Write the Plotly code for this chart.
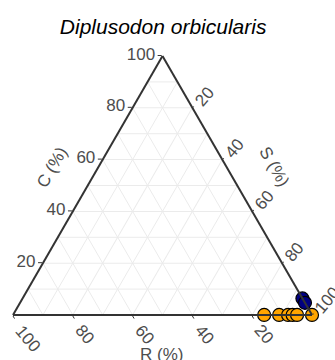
import plotly.graph_objects as go

# Composition of each sample (percent): C = top, R = bottom-left, S = bottom-right
orange_C = [0, 0, 0, 0, 0, 0]
orange_R = [16, 11, 8, 6.5, 5, 0]
orange_S = [84, 89, 92, 93.5, 95, 100]

navy_C = [6.4, 4.7]
navy_R = [0, 0]
navy_S = [93.6, 95.3]

major_ticks = [20, 40, 60, 80, 100]
major_labels = ["20", "40", "60", "80", "100"]
minor_levels = [10, 30, 50, 70, 90]

title_text = "Diplusodon orbicularis"
label_C, label_R, label_S = "C (%)", "R (%)", "S (%)"

FONT = "Liberation Sans, Arial, sans-serif"
GRID = "#EBEBEB"
AXIS = "#333333"
TEXT = "#4D4D4D"

# minor grid lines at the odd tens, one line per level for each component
ga, gb, gc = [], [], []
for k in minor_levels:
    for seg in (((k, 100 - k, 0), (k, 0, 100 - k)),
                ((100 - k, k, 0), (0, k, 100 - k)),
                ((100 - k, 0, k), (0, 100 - k, k))):
        for p in seg:
            ga.append(p[0]); gb.append(p[1]); gc.append(p[2])
        ga.append(None); gb.append(None); gc.append(None)

fig = go.Figure()
fig.add_trace(go.Scatterternary(
    a=ga, b=gb, c=gc, mode="lines",
    line=dict(color=GRID, width=1), hoverinfo="skip", showlegend=False,
))
fig.add_trace(go.Scatterternary(
    a=orange_C, b=orange_R, c=orange_S, mode="markers", cliponaxis=False,
    marker=dict(size=13, color="#FFA500", line=dict(color="black", width=1.2)),
    showlegend=False,
))
fig.add_trace(go.Scatterternary(
    a=navy_C, b=navy_R, c=navy_S, mode="markers", cliponaxis=False,
    marker=dict(size=13, color="#000080", line=dict(color="black", width=1.2)),
    showlegend=False,
))

axis_common = dict(
    tickmode="array", tickvals=major_ticks, ticktext=major_labels,
    ticks="outside", tickcolor=AXIS, tickwidth=1,
    showline=True, linecolor=AXIS, linewidth=2,
    showgrid=True, gridcolor=GRID, gridwidth=1,
    tickfont=dict(family=FONT, size=17, color=TEXT),
    title=dict(text=""), min=0,
)

tick_font = dict(family=FONT, size=17, color=TEXT)

# R-axis labels: slanted text hanging just below each tick of the bottom edge
# (the triangle spans the full paper width, R = 100 at its left corner)
r_tick_labels = [
    dict(text=lab, x=1 - v / 100, y=0, xref="paper", yref="paper",
         xanchor="left", yanchor="top", xshift=-3, yshift=-5, borderpad=0,
         showarrow=False, textangle=50, font=tick_font)
    for v, lab in zip(major_ticks, major_labels)
]

fig.update_layout(
    width=335, height=360,
    margin=dict(l=13, r=23, t=56, b=45),
    paper_bgcolor="white",
    ternary=dict(
        sum=100,
        bgcolor="white",
        aaxis=dict(**axis_common, ticklen=4),
        baxis=dict(**axis_common, ticklen=3, showticklabels=False),
        caxis=dict(**axis_common, ticklen=1, tickangle=-50),
    ),
    title=dict(
        text="<i>" + title_text + "</i>",
        x=0.487, xanchor="center", y=0.925, yanchor="middle",
        font=dict(family=FONT, size=21, color="black"),
    ),
    annotations=r_tick_labels + [
        dict(text=label_C, x=0.130, y=0.571, xref="paper", yref="paper",
             xanchor="center", yanchor="middle",
             showarrow=False, textangle=-60, font=tick_font),
        dict(text=label_S, x=0.876, y=0.571, xref="paper", yref="paper",
             xanchor="center", yanchor="middle",
             showarrow=False, textangle=60, font=tick_font),
        dict(text=label_R, x=0.498, y=-0.154, xref="paper", yref="paper",
             xanchor="center", yanchor="middle",
             showarrow=False, font=tick_font),
    ],
)

fig.write_html("out.html")
